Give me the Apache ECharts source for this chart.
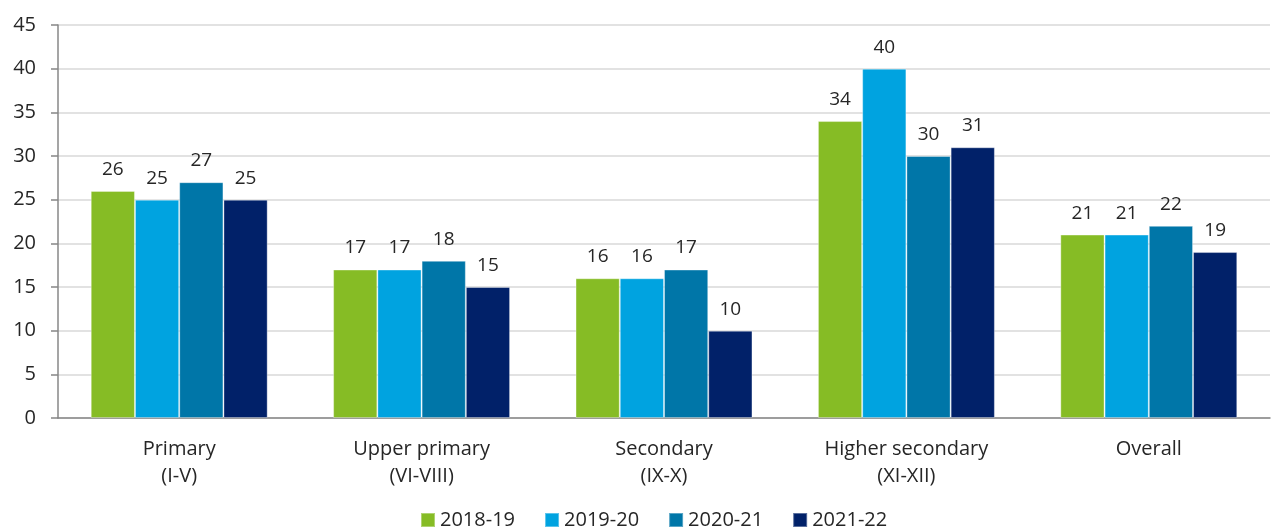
<!DOCTYPE html>
<html>
<head>
<meta charset="utf-8">
<script src="https://cdn.jsdelivr.net/npm/echarts@6/dist/echarts.min.js"></script>
<style>
  html, body { margin: 0; padding: 0; background: #fff; }
  #chart { width: 1279px; height: 527px; }
</style>
</head>
<body>
<div id="chart"></div>
<script>
const categories = ['Primary\n(I-V)', 'Upper primary\n(VI-VIII)', 'Secondary\n(IX-X)', 'Higher secondary\n(XI-XII)', 'Overall']
const years = ['2018-19', '2019-20', '2020-21', '2021-22']
const values2018 = [26, 17, 16, 34, 21]
const values2019 = [25, 17, 16, 40, 21]
const values2020 = [27, 18, 17, 30, 22]
const values2021 = [25, 15, 10, 31, 19]
const colors = ['#86bc25', '#00a3e0', '#0076a8', '#012169']

const font = '"Open Sans", "Noto Sans", sans-serif'
const seriesData = [values2018, values2019, values2020, values2021]

let chart = echarts.init(document.getElementById('chart'))
chart.setOption({
  color: colors,
  textStyle: { fontFamily: font },
  grid: { left: 58, right: 9, top: 25, bottom: 109 },
  legend: {
    top: 505,
    left: 415,
    itemWidth: 14,
    itemHeight: 14,
    itemGap: 29,
    icon: 'rect',
    textStyle: { fontSize: 20, color: '#262626', fontFamily: font },
    data: years
  },
  xAxis: {
    type: 'category',
    data: categories,
    axisLine: { lineStyle: { color: '#878787', width: 1.5 } },
    axisTick: { length: 7, lineStyle: { color: '#878787', width: 1.5 } },
    axisLabel: { fontSize: 20, color: '#262626', lineHeight: 27, margin: 18, fontFamily: font }
  },
  yAxis: {
    type: 'value',
    min: 0,
    max: 45,
    interval: 5,
    axisLine: { show: true, lineStyle: { color: '#878787', width: 1.5 } },
    axisTick: { show: true, length: 7, lineStyle: { color: '#878787', width: 1.5 } },
    axisLabel: { fontSize: 20, color: '#262626', margin: 22, fontFamily: font },
    splitLine: { lineStyle: { color: '#d9d9d9', width: 1.5 } }
  },
  series: years.map((y, i) => ({
    name: y,
    type: 'bar',
    data: seriesData[i],
    barGap: 0,
    barCategoryGap: '27%',
    itemStyle: { borderColor: 'rgba(255,255,255,0.35)', borderWidth: 1 },
    label: {
      show: true,
      position: 'top',
      distance: 12,
      fontSize: 19,
      color: '#262626',
      fontFamily: font
    }
  }))
})
</script>
</body>
</html>
